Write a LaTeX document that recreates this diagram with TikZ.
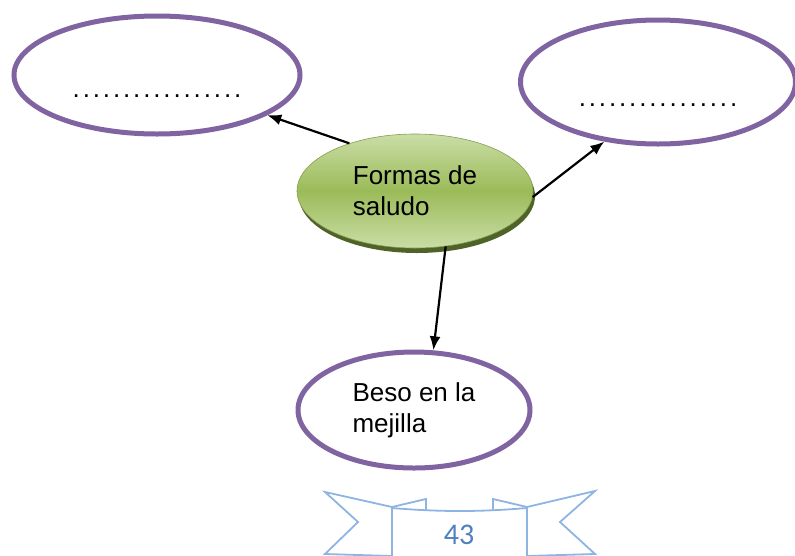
\documentclass[tikz,border=0pt]{standalone}
\usepackage{fontspec}
\setmainfont{Liberation Sans}
\newfontfamily\numfont{Carlito}
\newfontfamily\dotsfont[LetterSpace=11]{Liberation Sans}
\usepackage{tikz}
\usetikzlibrary{arrows.meta,shapes.geometric,shadows}
\definecolor{morado}{HTML}{8064A2}
\definecolor{verdeclaro}{HTML}{CADDA6}
\definecolor{verdemedio}{HTML}{9BBB59}
\definecolor{verdeosc}{HTML}{4F6228}
\definecolor{azulcinta}{HTML}{8EB4E3}
\definecolor{azulnum}{HTML}{4F81BD}

\begin{document}
\begin{tikzpicture}[
  x=1pt, y=-1pt,
  bubble/.style={ellipse, draw=morado, line width=5pt, fill=white, inner sep=0pt},
  tema/.style={ellipse, draw=verdemedio!85!black, line width=0.6pt, inner sep=0pt,
    top color=verdeclaro, bottom color=verdeclaro, middle color=verdemedio,
    drop shadow={shadow xshift=2pt, shadow yshift=-5pt, fill=verdeosc, opacity=1}},
  txt/.style={font=\fontsize{26}{31}\selectfont, align=left},
  puntos/.style={font=\dotsfont\fontsize{26}{31}\selectfont, inner sep=0pt},
  arrow/.style={-{Latex[length=14pt, width=11pt]}, line width=2.2pt},
  banner/.style={draw=azulcinta, line width=1.8pt, line join=miter}
]
\useasboundingbox (0,0) rectangle (795,555);

\node[tema, txt, minimum width=236, minimum height=114] (saludo) at (415,191) {Formas de\\saludo};
\node[bubble, minimum width=286, minimum height=118,
  label={[puntos, yshift=-21pt]center:{.................}}] (izq) at (157,75) {};
\node[bubble, minimum width=275, minimum height=124,
  label={[puntos, yshift=-23pt]center:{................}}] (der) at (658,82) {};
\node[bubble, txt, minimum width=232, minimum height=116] (beso) at (414,410) {Beso en la\\mejilla};

\draw[arrow] (saludo.144) -- (izq.-20);
\draw[arrow] (saludo.-3) -- (der.-132);
\draw[arrow] (saludo.-61) -- (beso.72);

% cinta con el numero de pagina
\draw[banner] (392,507) -- (325,492) -- (358,522) -- (325,554) -- (392,556);
\draw[banner] (392,507) -- (426,499) -- (426,510);
\draw[banner] (392,560) -- (392,508) .. controls (440,512) and (480,512) .. (527,508) -- (527,560);
\draw[banner] (527,507) -- (493,499) -- (493,510);
\draw[banner] (527,507) -- (595,491) -- (560,522) -- (595,554) -- (527,556);
\node[font=\numfont\fontsize{30}{36}\selectfont, text=azulnum] (pagina) at (459,535) {43};
\end{tikzpicture}
\end{document}
